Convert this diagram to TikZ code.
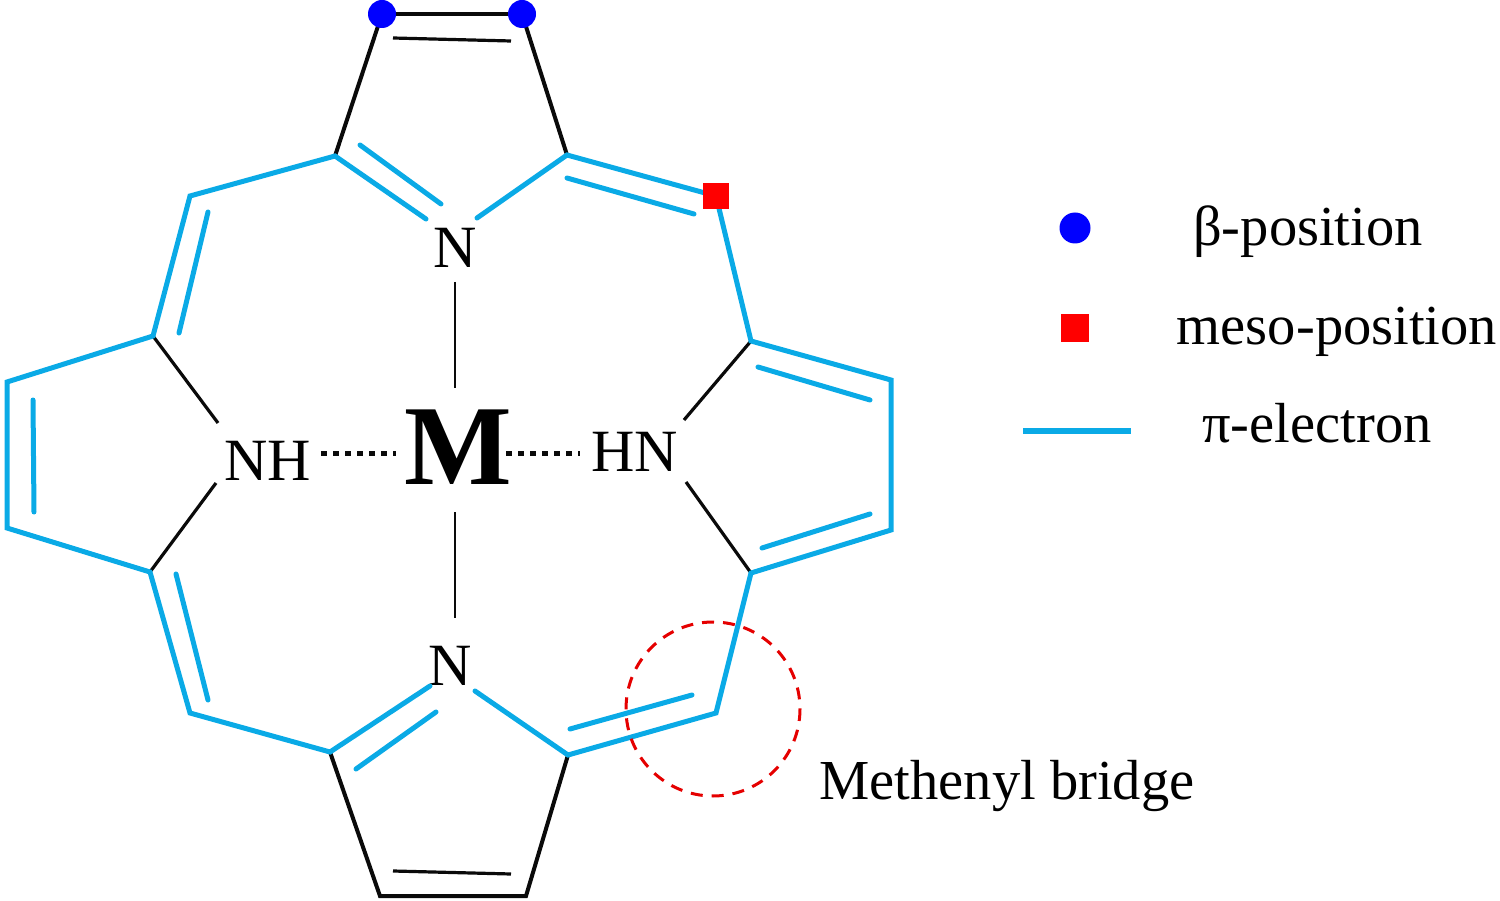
\documentclass[tikz,border=0pt]{standalone}
\usepackage{fontspec}
\setmainfont{Liberation Serif}
\definecolor{pib}{RGB}{10,170,230}
\definecolor{ink}{RGB}{10,10,10}
\begin{document}
\begin{tikzpicture}[x=1pt,y=-1pt,
 blk/.style={draw=ink,line width=4pt},
 thin blk/.style={draw=ink,line width=3.2pt},
 blu/.style={draw=pib,line width=5pt,line join=miter,line cap=round},
 dotbond/.style={draw=ink,line width=5pt,dash pattern=on 6pt off 6pt},
 lbl/.style={font=\fontsize{56.5}{57}\selectfont,inner sep=0pt},
 atom/.style={font=\fontsize{60}{61}\selectfont,inner sep=0pt},
 bdot/.style={circle,fill=blue,inner sep=0pt,minimum size=28pt},
 rsq/.style={fill=red,inner sep=0pt,minimum size=26pt}]
\useasboundingbox (0,0) rectangle (1500,901);
% coordinates
\coordinate (t1) at (382,14);\coordinate (t2) at (522,14);
\coordinate (a1) at (335,156);\coordinate (a2) at (567,155);
\coordinate (n1) at (190,196);\coordinate (m1) at (716,196);
\coordinate (b1) at (153,336);\coordinate (r1) at (751,341);
\coordinate (l1) at (7,382);\coordinate (l2) at (7,528);
\coordinate (b2) at (150,572);\coordinate (r2) at (891,380);\coordinate (r3) at (891,530);
\coordinate (r4) at (751,573);
\coordinate (n2) at (190,713);\coordinate (m2) at (716,713);
\coordinate (c1) at (330,752);\coordinate (c2) at (568,755);
\coordinate (d1) at (380,896);\coordinate (d2) at (526,896);
\coordinate (t3) at (393,38);\coordinate (t4) at (511,41);
\coordinate (d3) at (393,871);\coordinate (d4) at (511,874);
\coordinate (nh1) at (218,423);\coordinate (nh2) at (216,483);
\coordinate (hn1) at (684,420);\coordinate (hn2) at (686,482);
\coordinate (v1) at (455,282);\coordinate (v2) at (455,388);
\coordinate (v3) at (455,512);\coordinate (v4) at (455,618);
\coordinate (h1) at (321,453);\coordinate (h2) at (396,453);
\coordinate (h3) at (506,453);\coordinate (h4) at (580,453);
\coordinate (e1) at (426,219);\coordinate (e2) at (430,686);
\coordinate (e3) at (477,218);\coordinate (e4) at (475,691);
\coordinate (i1) at (360,145);\coordinate (i2) at (441,204);
\coordinate (i3) at (567,178);\coordinate (i4) at (694,214);
\coordinate (i5) at (208,212);\coordinate (i6) at (179,333);
\coordinate (i7) at (33,400);\coordinate (i8) at (34,512);
\coordinate (i9) at (176,574);\coordinate (i10) at (208,700);
\coordinate (i11) at (356,769);\coordinate (i12) at (436,712);
\coordinate (i13) at (570,729);\coordinate (i14) at (692,695);
\coordinate (i15) at (758,367);\coordinate (i16) at (870,400);
\coordinate (i17) at (762,548);\coordinate (i18) at (870,514);
\coordinate (cc) at (713,709);
\coordinate (lp1) at (1023,430.5);\coordinate (lp2) at (1131,430.5);
% atoms
\node[atom] (Nt) at (455,248) {N};
\node[atom] (Nb) at (450,666) {N};
\node[atom] (NH) at (268,461) {NH};
\node[atom] (HN) at (635,452) {HN};
\node[inner sep=0pt,font=\fontsize{114}{116}\selectfont\bfseries] (M) at (458,447) {M};
% black bonds
\draw[blk] (t1)--(t2);
\draw[blk] (t1)--(a1);\draw[blk] (t2)--(a2);
\draw[thin blk] (t3)--(t4);
\draw[thin blk] (b1)--(nh1);\draw[thin blk] (b2)--(nh2);
\draw[thin blk] (r1)--(hn1);\draw[thin blk] (r4)--(hn2);
\draw[blk,line join=miter] (c1)--(d1)--(d2)--(c2);
\draw[thin blk] (d3)--(d4);
\draw[thin blk,line width=2.6pt] (v1)--(v2);
\draw[thin blk,line width=2.6pt] (v3)--(v4);
\draw[dotbond] (h1)--(h2);
\draw[dotbond] (h3)--(h4);
% blue bonds
\draw[blu] (e1)--(a1)--(n1)--(b1)--(l1)--(l2)--(b2)--(n2)--(c1)--(e2);
\draw[blu] (e3)--(a2)--(m1)--(r1)--(r2)--(r3)--(r4)--(m2)--(c2)--(e4);
\draw[blu] (i1)--(i2);
\draw[blu] (i3)--(i4);
\draw[blu] (i5)--(i6);
\draw[blu] (i7)--(i8);
\draw[blu] (i9)--(i10);
\draw[blu] (i11)--(i12);
\draw[blu] (i13)--(i14);
\draw[blu] (i15)--(i16);
\draw[blu] (i17)--(i18);
% markers
\node[bdot] (bt1) at (t1) {};
\node[bdot] (bt2) at (t2) {};
\node[rsq] (mt) at (m1) {};
\draw[red!90!black,line width=3pt,dash pattern=on 12pt off 9pt] (cc) circle (87);
% legend
\node[bdot,minimum size=31pt] (lb) at (1075,228) {};
\node[rsq,minimum size=28pt] (lr) at (1075,328) {};
\draw[blu,line cap=butt,line width=6pt] (lp1)--(lp2);
\node[lbl] (t1x) at (1308,232) {β-position};
\node[lbl] (t2x) at (1337,332) {meso-position};
\node[lbl] (t3x) at (1317,423) {π-electron};
\node[lbl] (t4x) at (1007,786) {Methenyl bridge};
\end{tikzpicture}
\end{document}
